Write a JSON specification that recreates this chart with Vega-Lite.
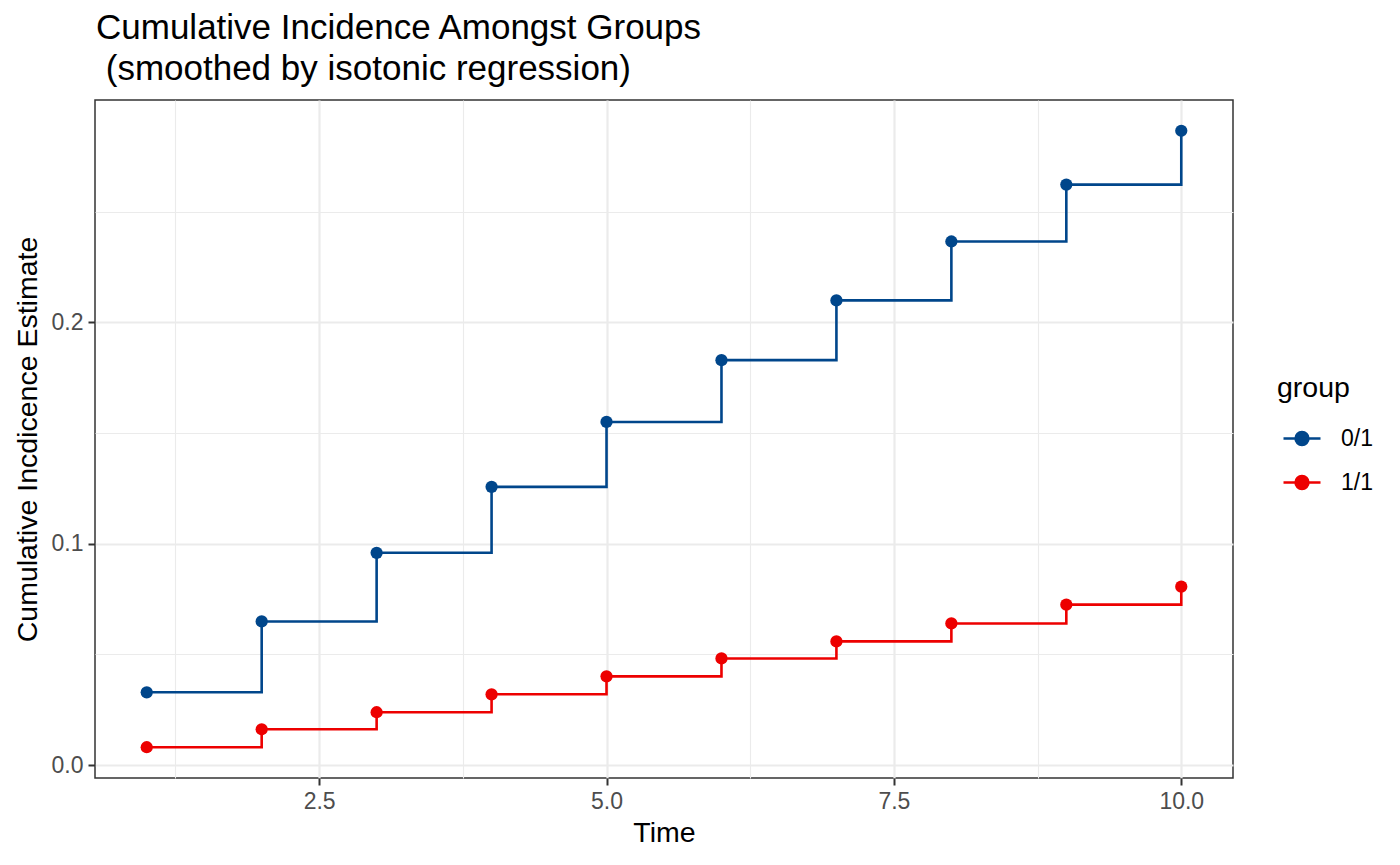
{
  "$schema": "https://vega.github.io/schema/vega-lite/v6.json",
  "width": 1138,
  "height": 678,
  "autosize": {"type": "none"},
  "padding": {"left": 95, "top": 100, "right": 167, "bottom": 87},
  "background": "white",
  "title": {
    "text": ["Cumulative Incidence Amongst Groups", "\u200b\u00a0(smoothed by isotonic regression)"],
    "anchor": "start",
    "frame": "group",
    "font": "Liberation Sans",
    "fontSize": 35,
    "fontWeight": "normal",
    "color": "#000000",
    "lineHeight": 41,
    "offset": 13,
    "dx": 1
  },
  "config": {
    "view": {"stroke": "#333333", "strokeWidth": 1.5},
    "font": "Liberation Sans",
    "axis": {
      "domain": false,
      "gridColor": "#EBEBEB",
      "tickColor": "#333333",
      "tickWidth": 2,
      "labelColor": "#4D4D4D",
      "labelFont": "Liberation Sans",
      "labelFontSize": 23,
      "titleFont": "Liberation Sans",
      "titleFontSize": 28.5,
      "titleFontWeight": "normal",
      "titleColor": "#000000",
      "labelOverlap": false,
      "labelBound": false,
      "labelFlush": false
    }
  },
  "data": {
    "values": [
      {"time": 1, "est": 0.0329, "group": "0/1"},
      {"time": 2, "est": 0.0649, "group": "0/1"},
      {"time": 3, "est": 0.0959, "group": "0/1"},
      {"time": 4, "est": 0.1257, "group": "0/1"},
      {"time": 5, "est": 0.1550, "group": "0/1"},
      {"time": 6, "est": 0.1829, "group": "0/1"},
      {"time": 7, "est": 0.2099, "group": "0/1"},
      {"time": 8, "est": 0.2365, "group": "0/1"},
      {"time": 9, "est": 0.2622, "group": "0/1"},
      {"time": 10, "est": 0.2865, "group": "0/1"},
      {"time": 1, "est": 0.0081, "group": "1/1"},
      {"time": 2, "est": 0.0162, "group": "1/1"},
      {"time": 3, "est": 0.0239, "group": "1/1"},
      {"time": 4, "est": 0.0320, "group": "1/1"},
      {"time": 5, "est": 0.0401, "group": "1/1"},
      {"time": 6, "est": 0.0482, "group": "1/1"},
      {"time": 7, "est": 0.0559, "group": "1/1"},
      {"time": 8, "est": 0.0640, "group": "1/1"},
      {"time": 9, "est": 0.0725, "group": "1/1"},
      {"time": 10, "est": 0.0806, "group": "1/1"}
    ]
  },
  "encoding": {
    "x": {
      "field": "time",
      "type": "quantitative",
      "title": "Time",
      "scale": {"domain": [0.55, 10.45], "nice": false, "zero": false},
      "axis": {
        "values": [1.25, 2.5, 3.75, 5, 6.25, 7.5, 8.75, 10],
        "labelExpr": "datum.value % 2.5 === 0 ? format(datum.value, '.1f') : ''",
        "tickSize": 7,
        "labelPadding": 5,
        "titlePadding": 5,
        "tickOpacity": {"condition": {"test": "datum.value % 2.5 !== 0", "value": 0}, "value": 1},
        "gridWidth": {"condition": {"test": "datum.value % 2.5 !== 0", "value": 1.1}, "value": 2.2}
      }
    },
    "y": {
      "field": "est",
      "type": "quantitative",
      "title": "Cumulative Incdicence Estimate",
      "scale": {"domain": [-0.0058, 0.3004], "nice": false, "zero": false},
      "axis": {
        "values": [0, 0.05, 0.1, 0.15, 0.2, 0.25],
        "labelExpr": "abs(datum.value*10 - round(datum.value*10)) < 0.001 ? format(datum.value, '.1f') : ''",
        "tickSize": 7,
        "labelPadding": 5,
        "titlePadding": 9,
        "tickOpacity": {"condition": {"test": "abs(datum.value*10 - round(datum.value*10)) > 0.001", "value": 0}, "value": 1},
        "gridWidth": {"condition": {"test": "abs(datum.value*10 - round(datum.value*10)) > 0.001", "value": 1.1}, "value": 2.2}
      }
    },
    "color": {
      "field": "group",
      "type": "nominal",
      "scale": {"domain": ["0/1", "1/1"], "range": ["#00468B", "#ED0000"]},
      "legend": {
        "title": "group",
        "orient": "none",
        "legendX": 1182,
        "legendY": 274,
        "padding": 0,
        "titleFont": "Liberation Sans",
        "titleFontSize": 28.5,
        "titleFontWeight": "normal",
        "titleColor": "#000000",
        "titlePadding": 16,
        "labelFont": "Liberation Sans",
        "labelFontSize": 23,
        "labelColor": "#000000",
        "labelOffset": 19,
        "symbolOffset": 5,
        "rowPadding": 12,
        "symbolType": "M-1,0L1,0M-0.35,0A0.35,0.35,0,1,1,0.35,0A0.35,0.35,0,1,1,-0.35,0Z",
        "symbolSize": 1369,
        "symbolStrokeWidth": 2.5,
        "encode": {
          "symbols": {
            "update": {
              "fill": {"scale": "color", "field": "value"},
              "stroke": {"scale": "color", "field": "value"},
              "opacity": {"value": 1}
            }
          }
        }
      }
    }
  },
  "layer": [
    {
      "mark": {"type": "line", "interpolate": "step-after", "strokeWidth": 2.6},
      "encoding": {"order": {"field": "time"}}
    },
    {
      "mark": {"type": "point", "filled": true, "size": 150, "opacity": 1}
    }
  ]
}
